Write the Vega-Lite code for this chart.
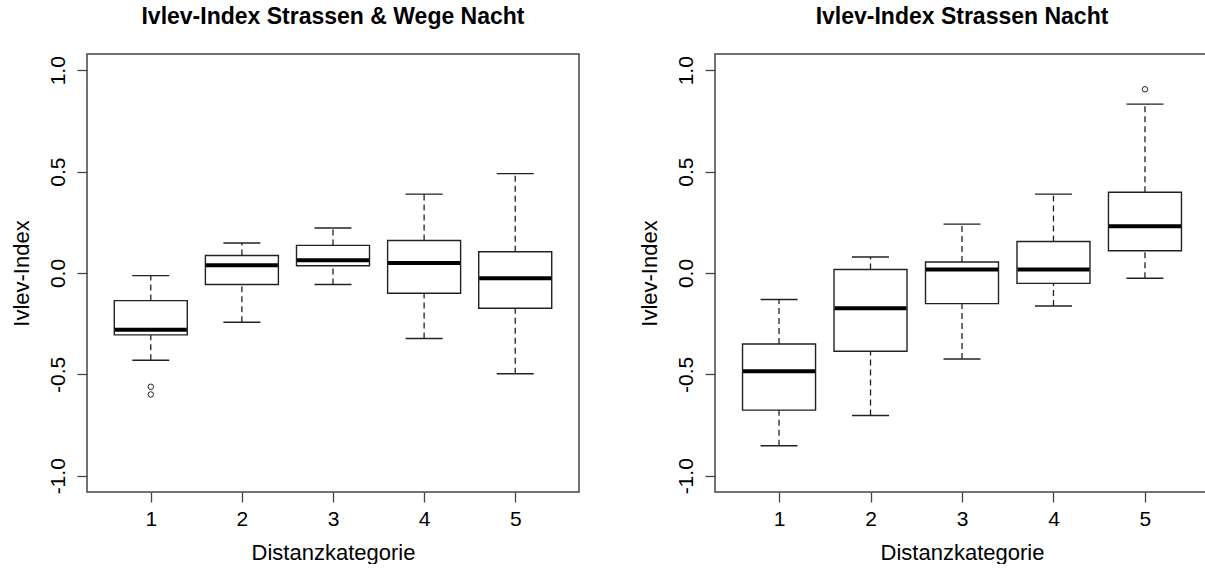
{
  "$schema": "https://vega.github.io/schema/vega-lite/v6.json",
  "background": "white",
  "padding": {"left": 9, "top": 5, "right": 0, "bottom": 0},
  "spacing": 57,
  "datasets": {
    "boxes": [
      {"panel": "A", "k": 1, "lower": -0.43, "q1": -0.305, "median": -0.28, "q3": -0.136, "upper": -0.013},
      {"panel": "A", "k": 2, "lower": -0.243, "q1": -0.057, "median": 0.038, "q3": 0.086, "upper": 0.148},
      {"panel": "A", "k": 3, "lower": -0.057, "q1": 0.036, "median": 0.063, "q3": 0.136, "upper": 0.222},
      {"panel": "A", "k": 4, "lower": -0.323, "q1": -0.1, "median": 0.049, "q3": 0.16, "upper": 0.389},
      {"panel": "A", "k": 5, "lower": -0.497, "q1": -0.174, "median": -0.026, "q3": 0.105, "upper": 0.49},
      {"panel": "B", "k": 1, "lower": -0.852, "q1": -0.676, "median": -0.484, "q3": -0.35, "upper": -0.131},
      {"panel": "B", "k": 2, "lower": -0.703, "q1": -0.386, "median": -0.174, "q3": 0.017, "upper": 0.079},
      {"panel": "B", "k": 3, "lower": -0.424, "q1": -0.151, "median": 0.017, "q3": 0.054, "upper": 0.241},
      {"panel": "B", "k": 4, "lower": -0.163, "q1": -0.051, "median": 0.017, "q3": 0.155, "upper": 0.389},
      {"panel": "B", "k": 5, "lower": -0.026, "q1": 0.11, "median": 0.23, "q3": 0.398, "upper": 0.833}
    ],
    "outliers": [
      {"panel": "A", "k": 1, "value": -0.561},
      {"panel": "A", "k": 1, "value": -0.599},
      {"panel": "B", "k": 5, "value": 0.906}
    ]
  },
  "config": {
    "font": "Liberation Sans",
    "view": {"stroke": "#444", "strokeWidth": 1.5},
    "scale": {"continuousPadding": 0},
    "axis": {
      "grid": false, "domain": false, "tickColor": "#444", "tickSize": 10, "tickWidth": 1.3,
      "labelFont": "Liberation Sans", "labelFontSize": 21, "labelColor": "black",
      "titleFont": "Liberation Sans", "titleFontSize": 22, "titleFontWeight": "normal", "titleColor": "black"
    },
    "title": {"font": "Liberation Sans", "fontSize": 23, "fontWeight": "bold", "anchor": "middle", "color": "black", "baseline": "alphabetic", "offset": 25}
  },
  "hconcat": [
    {
      "width": 492, "height": 438,
      "title": "Ivlev-Index Strassen & Wege Nacht",
      "layer": [
        {
          "data": {"name": "boxes"},
          "transform": [{"filter": "datum.panel == 'A'"}],
          "mark": {"type": "rule", "strokeDash": [6, 4], "color": "#222", "strokeWidth": 1.3},
          "encoding": {
            "x": {"field": "k", "type": "quantitative", "scale": {"domain": [0.3, 5.7], "nice": false, "zero": false, "padding": 0},
                  "axis": {"values": [1, 2, 3, 4, 5], "format": "d", "labelAngle": 0, "labelPadding": 6, "titlePadding": 13, "title": "Distanzkategorie"}},
            "y": {"field": "lower", "type": "quantitative", "scale": {"domain": [-1.08, 1.08], "nice": false, "zero": false, "padding": 0},
                  "axis": {"values": [-1, -0.5, 0, 0.5, 1], "labelExpr": "replace(format(datum.value, '.1f'), '\u2212', '-')", "labelAngle": -90, "labelPadding": 9, "titlePadding": 14, "title": "Ivlev-Index"}},
            "y2": {"field": "q1"}
          }
        },
        {
          "data": {"name": "boxes"},
          "transform": [{"filter": "datum.panel == 'A'"}],
          "mark": {"type": "rule", "strokeDash": [6, 4], "color": "#222", "strokeWidth": 1.3},
          "encoding": {
            "x": {"field": "k", "type": "quantitative", "scale": {"domain": [0.3, 5.7], "nice": false, "zero": false, "padding": 0},
                  "axis": {"values": [1, 2, 3, 4, 5], "format": "d", "labelAngle": 0, "labelPadding": 6, "titlePadding": 13, "title": "Distanzkategorie"}},
            "y": {"field": "q3", "type": "quantitative", "scale": {"domain": [-1.08, 1.08], "nice": false, "zero": false, "padding": 0},
                  "axis": {"values": [-1, -0.5, 0, 0.5, 1], "labelExpr": "replace(format(datum.value, '.1f'), '\u2212', '-')", "labelAngle": -90, "labelPadding": 9, "titlePadding": 14, "title": "Ivlev-Index"}},
            "y2": {"field": "upper"}
          }
        },
        {
          "data": {"name": "boxes"},
          "transform": [{"filter": "datum.panel == 'A'"}],
          "mark": {"type": "tick", "orient": "horizontal", "size": 37, "thickness": 1.4, "color": "#222", "opacity": 1},
          "encoding": {
            "x": {"field": "k", "type": "quantitative", "scale": {"domain": [0.3, 5.7], "nice": false, "zero": false, "padding": 0},
                  "axis": {"values": [1, 2, 3, 4, 5], "format": "d", "labelAngle": 0, "labelPadding": 6, "titlePadding": 13, "title": "Distanzkategorie"}},
            "y": {"field": "lower", "type": "quantitative", "scale": {"domain": [-1.08, 1.08], "nice": false, "zero": false, "padding": 0},
                  "axis": {"values": [-1, -0.5, 0, 0.5, 1], "labelExpr": "replace(format(datum.value, '.1f'), '\u2212', '-')", "labelAngle": -90, "labelPadding": 9, "titlePadding": 14, "title": "Ivlev-Index"}}
          }
        },
        {
          "data": {"name": "boxes"},
          "transform": [{"filter": "datum.panel == 'A'"}],
          "mark": {"type": "tick", "orient": "horizontal", "size": 37, "thickness": 1.4, "color": "#222", "opacity": 1},
          "encoding": {
            "x": {"field": "k", "type": "quantitative", "scale": {"domain": [0.3, 5.7], "nice": false, "zero": false, "padding": 0},
                  "axis": {"values": [1, 2, 3, 4, 5], "format": "d", "labelAngle": 0, "labelPadding": 6, "titlePadding": 13, "title": "Distanzkategorie"}},
            "y": {"field": "upper", "type": "quantitative", "scale": {"domain": [-1.08, 1.08], "nice": false, "zero": false, "padding": 0},
                  "axis": {"values": [-1, -0.5, 0, 0.5, 1], "labelExpr": "replace(format(datum.value, '.1f'), '\u2212', '-')", "labelAngle": -90, "labelPadding": 9, "titlePadding": 14, "title": "Ivlev-Index"}}
          }
        },
        {
          "data": {"name": "boxes"},
          "transform": [{"filter": "datum.panel == 'A'"}],
          "mark": {"type": "bar", "size": 73, "fill": "white", "stroke": "#222", "strokeWidth": 1.4},
          "encoding": {
            "x": {"field": "k", "type": "quantitative", "scale": {"domain": [0.3, 5.7], "nice": false, "zero": false, "padding": 0},
                  "axis": {"values": [1, 2, 3, 4, 5], "format": "d", "labelAngle": 0, "labelPadding": 6, "titlePadding": 13, "title": "Distanzkategorie"}},
            "y": {"field": "q1", "type": "quantitative", "scale": {"domain": [-1.08, 1.08], "nice": false, "zero": false, "padding": 0},
                  "axis": {"values": [-1, -0.5, 0, 0.5, 1], "labelExpr": "replace(format(datum.value, '.1f'), '\u2212', '-')", "labelAngle": -90, "labelPadding": 9, "titlePadding": 14, "title": "Ivlev-Index"}},
            "y2": {"field": "q3"}
          }
        },
        {
          "data": {"name": "boxes"},
          "transform": [{"filter": "datum.panel == 'A'"}],
          "mark": {"type": "tick", "orient": "horizontal", "size": 72, "thickness": 4, "color": "black", "opacity": 1},
          "encoding": {
            "x": {"field": "k", "type": "quantitative", "scale": {"domain": [0.3, 5.7], "nice": false, "zero": false, "padding": 0},
                  "axis": {"values": [1, 2, 3, 4, 5], "format": "d", "labelAngle": 0, "labelPadding": 6, "titlePadding": 13, "title": "Distanzkategorie"}},
            "y": {"field": "median", "type": "quantitative", "scale": {"domain": [-1.08, 1.08], "nice": false, "zero": false, "padding": 0},
                  "axis": {"values": [-1, -0.5, 0, 0.5, 1], "labelExpr": "replace(format(datum.value, '.1f'), '\u2212', '-')", "labelAngle": -90, "labelPadding": 9, "titlePadding": 14, "title": "Ivlev-Index"}}
          }
        },
        {
          "data": {"name": "outliers"},
          "transform": [{"filter": "datum.panel == 'A'"}],
          "mark": {"type": "point", "shape": "circle", "size": 30, "filled": false, "color": "#222", "strokeWidth": 1, "opacity": 1},
          "encoding": {
            "x": {"field": "k", "type": "quantitative", "scale": {"domain": [0.3, 5.7], "nice": false, "zero": false, "padding": 0},
                  "axis": {"values": [1, 2, 3, 4, 5], "format": "d", "labelAngle": 0, "labelPadding": 6, "titlePadding": 13, "title": "Distanzkategorie"}},
            "y": {"field": "value", "type": "quantitative", "scale": {"domain": [-1.08, 1.08], "nice": false, "zero": false, "padding": 0},
                  "axis": {"values": [-1, -0.5, 0, 0.5, 1], "labelExpr": "replace(format(datum.value, '.1f'), '\u2212', '-')", "labelAngle": -90, "labelPadding": 9, "titlePadding": 14, "title": "Ivlev-Index"}}
          }
        }
      ]
    },
    {
      "width": 494, "height": 438,
      "title": "Ivlev-Index Strassen Nacht",
      "layer": [
        {
          "data": {"name": "boxes"},
          "transform": [{"filter": "datum.panel == 'B'"}],
          "mark": {"type": "rule", "strokeDash": [6, 4], "color": "#222", "strokeWidth": 1.3},
          "encoding": {
            "x": {"field": "k", "type": "quantitative", "scale": {"domain": [0.3, 5.7], "nice": false, "zero": false, "padding": 0},
                  "axis": {"values": [1, 2, 3, 4, 5], "format": "d", "labelAngle": 0, "labelPadding": 6, "titlePadding": 13, "title": "Distanzkategorie"}},
            "y": {"field": "lower", "type": "quantitative", "scale": {"domain": [-1.08, 1.08], "nice": false, "zero": false, "padding": 0},
                  "axis": {"values": [-1, -0.5, 0, 0.5, 1], "labelExpr": "replace(format(datum.value, '.1f'), '\u2212', '-')", "labelAngle": -90, "labelPadding": 9, "titlePadding": 14, "title": "Ivlev-Index"}},
            "y2": {"field": "q1"}
          }
        },
        {
          "data": {"name": "boxes"},
          "transform": [{"filter": "datum.panel == 'B'"}],
          "mark": {"type": "rule", "strokeDash": [6, 4], "color": "#222", "strokeWidth": 1.3},
          "encoding": {
            "x": {"field": "k", "type": "quantitative", "scale": {"domain": [0.3, 5.7], "nice": false, "zero": false, "padding": 0},
                  "axis": {"values": [1, 2, 3, 4, 5], "format": "d", "labelAngle": 0, "labelPadding": 6, "titlePadding": 13, "title": "Distanzkategorie"}},
            "y": {"field": "q3", "type": "quantitative", "scale": {"domain": [-1.08, 1.08], "nice": false, "zero": false, "padding": 0},
                  "axis": {"values": [-1, -0.5, 0, 0.5, 1], "labelExpr": "replace(format(datum.value, '.1f'), '\u2212', '-')", "labelAngle": -90, "labelPadding": 9, "titlePadding": 14, "title": "Ivlev-Index"}},
            "y2": {"field": "upper"}
          }
        },
        {
          "data": {"name": "boxes"},
          "transform": [{"filter": "datum.panel == 'B'"}],
          "mark": {"type": "tick", "orient": "horizontal", "size": 37, "thickness": 1.4, "color": "#222", "opacity": 1},
          "encoding": {
            "x": {"field": "k", "type": "quantitative", "scale": {"domain": [0.3, 5.7], "nice": false, "zero": false, "padding": 0},
                  "axis": {"values": [1, 2, 3, 4, 5], "format": "d", "labelAngle": 0, "labelPadding": 6, "titlePadding": 13, "title": "Distanzkategorie"}},
            "y": {"field": "lower", "type": "quantitative", "scale": {"domain": [-1.08, 1.08], "nice": false, "zero": false, "padding": 0},
                  "axis": {"values": [-1, -0.5, 0, 0.5, 1], "labelExpr": "replace(format(datum.value, '.1f'), '\u2212', '-')", "labelAngle": -90, "labelPadding": 9, "titlePadding": 14, "title": "Ivlev-Index"}}
          }
        },
        {
          "data": {"name": "boxes"},
          "transform": [{"filter": "datum.panel == 'B'"}],
          "mark": {"type": "tick", "orient": "horizontal", "size": 37, "thickness": 1.4, "color": "#222", "opacity": 1},
          "encoding": {
            "x": {"field": "k", "type": "quantitative", "scale": {"domain": [0.3, 5.7], "nice": false, "zero": false, "padding": 0},
                  "axis": {"values": [1, 2, 3, 4, 5], "format": "d", "labelAngle": 0, "labelPadding": 6, "titlePadding": 13, "title": "Distanzkategorie"}},
            "y": {"field": "upper", "type": "quantitative", "scale": {"domain": [-1.08, 1.08], "nice": false, "zero": false, "padding": 0},
                  "axis": {"values": [-1, -0.5, 0, 0.5, 1], "labelExpr": "replace(format(datum.value, '.1f'), '\u2212', '-')", "labelAngle": -90, "labelPadding": 9, "titlePadding": 14, "title": "Ivlev-Index"}}
          }
        },
        {
          "data": {"name": "boxes"},
          "transform": [{"filter": "datum.panel == 'B'"}],
          "mark": {"type": "bar", "size": 73, "fill": "white", "stroke": "#222", "strokeWidth": 1.4},
          "encoding": {
            "x": {"field": "k", "type": "quantitative", "scale": {"domain": [0.3, 5.7], "nice": false, "zero": false, "padding": 0},
                  "axis": {"values": [1, 2, 3, 4, 5], "format": "d", "labelAngle": 0, "labelPadding": 6, "titlePadding": 13, "title": "Distanzkategorie"}},
            "y": {"field": "q1", "type": "quantitative", "scale": {"domain": [-1.08, 1.08], "nice": false, "zero": false, "padding": 0},
                  "axis": {"values": [-1, -0.5, 0, 0.5, 1], "labelExpr": "replace(format(datum.value, '.1f'), '\u2212', '-')", "labelAngle": -90, "labelPadding": 9, "titlePadding": 14, "title": "Ivlev-Index"}},
            "y2": {"field": "q3"}
          }
        },
        {
          "data": {"name": "boxes"},
          "transform": [{"filter": "datum.panel == 'B'"}],
          "mark": {"type": "tick", "orient": "horizontal", "size": 72, "thickness": 4, "color": "black", "opacity": 1},
          "encoding": {
            "x": {"field": "k", "type": "quantitative", "scale": {"domain": [0.3, 5.7], "nice": false, "zero": false, "padding": 0},
                  "axis": {"values": [1, 2, 3, 4, 5], "format": "d", "labelAngle": 0, "labelPadding": 6, "titlePadding": 13, "title": "Distanzkategorie"}},
            "y": {"field": "median", "type": "quantitative", "scale": {"domain": [-1.08, 1.08], "nice": false, "zero": false, "padding": 0},
                  "axis": {"values": [-1, -0.5, 0, 0.5, 1], "labelExpr": "replace(format(datum.value, '.1f'), '\u2212', '-')", "labelAngle": -90, "labelPadding": 9, "titlePadding": 14, "title": "Ivlev-Index"}}
          }
        },
        {
          "data": {"name": "outliers"},
          "transform": [{"filter": "datum.panel == 'B'"}],
          "mark": {"type": "point", "shape": "circle", "size": 30, "filled": false, "color": "#222", "strokeWidth": 1, "opacity": 1},
          "encoding": {
            "x": {"field": "k", "type": "quantitative", "scale": {"domain": [0.3, 5.7], "nice": false, "zero": false, "padding": 0},
                  "axis": {"values": [1, 2, 3, 4, 5], "format": "d", "labelAngle": 0, "labelPadding": 6, "titlePadding": 13, "title": "Distanzkategorie"}},
            "y": {"field": "value", "type": "quantitative", "scale": {"domain": [-1.08, 1.08], "nice": false, "zero": false, "padding": 0},
                  "axis": {"values": [-1, -0.5, 0, 0.5, 1], "labelExpr": "replace(format(datum.value, '.1f'), '\u2212', '-')", "labelAngle": -90, "labelPadding": 9, "titlePadding": 14, "title": "Ivlev-Index"}}
          }
        }
      ]
    }
  ]
}
